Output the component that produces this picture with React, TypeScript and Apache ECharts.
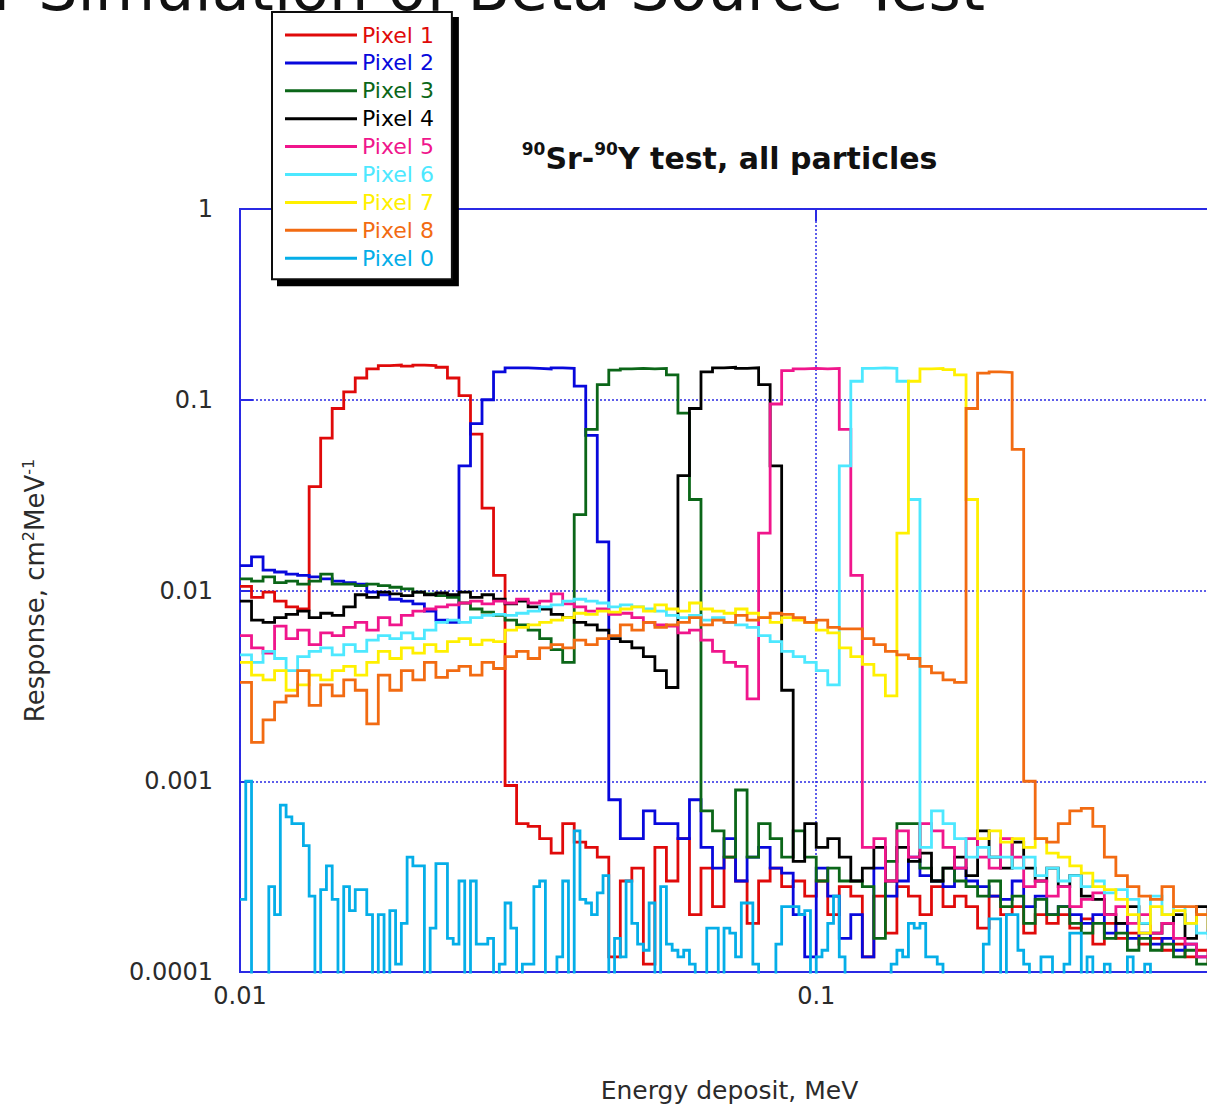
import React, { useEffect, useRef } from "react";
import * as echarts from "echarts";

// Histogram binning (log-uniform bins, width in decades) starting at X_MIN
const X_MIN = 0.01;
const X_MAX = 0.5;
const Y_MIN = 0.0001;
const Y_MAX = 1;
const BIN_DECADES = 0.02;
const FINE_BIN_DECADES = 0.01;
const BELOW_AXIS = 1e-6; // empty bins (0) drawn below the log axis floor

const SERIES_NAMES = ["Pixel 1", "Pixel 2", "Pixel 3", "Pixel 4", "Pixel 5", "Pixel 6", "Pixel 7", "Pixel 8", "Pixel 0"];
const SERIES_COLORS = ["#e00a0a", "#0808dc", "#0b6618", "#000000", "#f0168c", "#4de8ff", "#fff000", "#f26b12", "#05aee8"];

const PIXEL_1 = [
  0.0105, 0.0092, 0.0098, 0.0088, 0.0082, 0.008, 0.035, 0.063, 0.09, 0.11,
  0.13, 0.145, 0.151, 0.152, 0.15, 0.152, 0.151, 0.148, 0.13, 0.105,
  0.066, 0.027, 0.012, 0.00095, 0.0006, 0.00058, 0.0005, 0.00042, 0.0006, 0.00048,
  0.00045, 0.0004, 0.00012, 0.0003, 0.00035, 0.00011, 0.00045, 0.0003, 0.0005, 0.0002,
  0.00035, 0.00022, 0.0004, 0.0003, 0.00018, 0.0003, 0.00035, 0.00028, 0.0003, 0.00025,
  0.0003, 0.0002, 0.00028, 0.00025, 0.00012, 0.00025, 0.00016, 0.00028, 0.00025, 0.0002,
  0.00028, 0.00022, 0.00025, 0.00022, 0.00017, 0.00025, 0.0002, 0.00022, 0.00016, 0.0002,
  0.00018, 0.0002, 0.00017, 0.00019, 0.00014, 0.00018, 0.00015, 0.00016, 0.00014, 0.00015,
  0.00013, 0.00014, 0.00012, 0.00013, 0.00011,
];

const PIXEL_2 = [
  0.0135, 0.015, 0.0128, 0.0125, 0.0122, 0.012, 0.0118, 0.0115, 0.0112, 0.011,
  0.0108, 0.0098, 0.0095, 0.009, 0.0088, 0.0085, 0.0078, 0.007, 0.0068, 0.045,
  0.075, 0.1, 0.14, 0.147, 0.147, 0.146, 0.145, 0.147, 0.146, 0.118,
  0.065, 0.018, 0.0008, 0.0005, 0.0005, 0.0007, 0.0006, 0.0006, 0.0005, 0.0008,
  0.00045, 0.00035, 0.0005, 0.0003, 0.0004, 0.00045, 0.00035, 0.00033, 0.0002, 0.00012,
  0.00035, 0.00025, 0.00015, 0.0002, 0.00012, 0.00035, 0.00025, 0.0003, 0.0004, 0.00032,
  0.0003, 0.00028, 0.00035, 0.0003, 0.00028, 0.00025, 0.00024, 0.0003, 0.00022, 0.00025,
  0.0002, 0.00022, 0.0002, 0.00018, 0.0002, 0.00016, 0.00018, 0.00015, 0.00016, 0.00014,
  0.00015, 0.00013, 0.00014, 0.00012, 0.00012,
];

const PIXEL_3 = [
  0.0115, 0.0112, 0.0118, 0.011, 0.0112, 0.0108, 0.0112, 0.0122, 0.0108, 0.0108,
  0.0106, 0.0108, 0.0106, 0.0104, 0.0102, 0.0098, 0.0096, 0.0094, 0.0092, 0.0086,
  0.008, 0.0077, 0.0074, 0.007, 0.0066, 0.0062, 0.0056, 0.0049, 0.0042, 0.025,
  0.07, 0.12, 0.143, 0.145, 0.146, 0.145, 0.146, 0.135, 0.085, 0.03,
  0.0007, 0.00055, 0.0004, 0.0009, 0.0004, 0.0006, 0.0005, 0.0004, 0.00055, 0.0004,
  0.0003, 0.00035, 0.0003, 0.0003, 0.00028, 0.00015, 0.00038, 0.0006, 0.0006, 0.00035,
  0.0003, 0.00035, 0.0003, 0.00028, 0.00025, 0.0003, 0.00022, 0.00025, 0.00018, 0.00024,
  0.0002, 0.00022, 0.00018, 0.00016, 0.00018, 0.00015, 0.00016, 0.00013, 0.00015, 0.00013,
  0.00014, 0.00012, 0.00013, 0.00011, 0.00012,
];

const PIXEL_4 = [
  0.0088, 0.007, 0.0068, 0.0072, 0.0075, 0.0078, 0.0072, 0.0076, 0.0074, 0.0082,
  0.0095, 0.0092, 0.0098, 0.0096, 0.0094, 0.0098, 0.0095, 0.0097, 0.0095, 0.0098,
  0.0092, 0.0095, 0.009, 0.0085, 0.0088, 0.0082, 0.008, 0.0075, 0.0072, 0.0068,
  0.0066, 0.0062, 0.0056, 0.0054, 0.005, 0.0045, 0.0038, 0.0031, 0.04, 0.09,
  0.14, 0.147, 0.148, 0.146, 0.147, 0.12, 0.045, 0.003, 0.00038, 0.0006,
  0.00045, 0.0005, 0.0004, 0.0003, 0.00035, 0.00045, 0.0003, 0.00045, 0.00038, 0.00042,
  0.0003, 0.00035, 0.0004, 0.00032, 0.00055, 0.0004, 0.00035, 0.00048, 0.00035, 0.0003,
  0.00035, 0.00028, 0.00032, 0.00025, 0.00024, 0.0002, 0.00018, 0.00022, 0.00018, 0.00016,
  0.00018, 0.0002, 0.00015, 0.00022, 0.00016,
];

const PIXEL_5 = [
  0.0058, 0.005, 0.0047, 0.0065, 0.0056, 0.0062, 0.0052, 0.006, 0.0058, 0.0064,
  0.0068, 0.0062, 0.0072, 0.0066, 0.0074, 0.0078, 0.008, 0.0082, 0.0084, 0.0086,
  0.0088, 0.0085, 0.0088, 0.0086, 0.009, 0.0086, 0.0088, 0.0096, 0.0085, 0.0082,
  0.0078, 0.008, 0.0075, 0.0076, 0.0072, 0.0068, 0.0066, 0.0065, 0.006, 0.0062,
  0.0055, 0.0048, 0.0042, 0.004, 0.0027, 0.02, 0.095, 0.142, 0.145, 0.146,
  0.145, 0.146, 0.07, 0.012, 0.00045, 0.0005, 0.0003, 0.00055, 0.0004, 0.0006,
  0.00055, 0.00045, 0.00035, 0.0005, 0.0004, 0.00035, 0.0005, 0.0004, 0.00028, 0.0003,
  0.00025, 0.00028, 0.00022, 0.00024, 0.00026, 0.0002, 0.00022, 0.00018, 0.0002, 0.00016,
  0.00018, 0.00015, 0.00014, 0.00012, 0.00013,
];

const PIXEL_6 = [
  0.0046, 0.0042, 0.0048, 0.0044, 0.0038, 0.0045, 0.0048, 0.005, 0.0046, 0.0052,
  0.0048, 0.0055, 0.0058, 0.0056, 0.006, 0.0056, 0.0062, 0.0068, 0.007, 0.0068,
  0.0072, 0.0074, 0.0075, 0.0074, 0.0076, 0.0078, 0.0082, 0.0084, 0.0088, 0.009,
  0.0088, 0.0086, 0.0082, 0.0084, 0.0082, 0.008, 0.0078, 0.0074, 0.0072, 0.0074,
  0.007, 0.0072, 0.0068, 0.0066, 0.0064, 0.0058, 0.0054, 0.0048, 0.0045, 0.0042,
  0.0038, 0.0032, 0.045, 0.125, 0.146, 0.147, 0.146, 0.125, 0.03, 0.00045,
  0.0007, 0.0006, 0.0005, 0.0004, 0.00045, 0.0004, 0.0004, 0.00035, 0.0004, 0.00032,
  0.00035, 0.0003, 0.00032, 0.00028, 0.0003, 0.00026, 0.00027, 0.00024, 0.00018, 0.00025,
  0.0002, 0.00022, 0.00018, 0.00016, 0.00015,
];

const PIXEL_7 = [
  0.0042, 0.0036, 0.0034, 0.0038, 0.003, 0.0032, 0.0036, 0.0034, 0.0038, 0.004,
  0.0036, 0.0042, 0.0048, 0.0044, 0.005, 0.0047, 0.0052, 0.0048, 0.0054, 0.0056,
  0.0052, 0.0055, 0.0054, 0.0062, 0.0064, 0.0066, 0.0068, 0.007, 0.0072, 0.0076,
  0.0075, 0.0078, 0.0077, 0.008, 0.0082, 0.0078, 0.0084, 0.008, 0.0078, 0.0086,
  0.008, 0.0078, 0.0076, 0.008, 0.0076, 0.0072, 0.0068, 0.0072, 0.007, 0.0068,
  0.0062, 0.006, 0.005, 0.0045, 0.0041, 0.0036, 0.0028, 0.02, 0.125, 0.145,
  0.146, 0.144, 0.135, 0.03, 0.0005, 0.00055, 0.00048, 0.0005, 0.00045, 0.0005,
  0.00042, 0.0004, 0.00036, 0.00033, 0.00028, 0.00027, 0.00024, 0.0002, 0.00016, 0.00022,
  0.0002, 0.00021, 0.00018, 0.0002, 0.00017,
];

const PIXEL_8 = [
  0.0033, 0.0016, 0.0021, 0.0026, 0.0028, 0.0038, 0.0025, 0.0032, 0.0028, 0.0034,
  0.003, 0.002, 0.0036, 0.003, 0.0038, 0.0034, 0.0042, 0.0035, 0.0038, 0.004,
  0.0036, 0.0042, 0.0039, 0.0045, 0.0048, 0.0044, 0.005, 0.0052, 0.005, 0.0055,
  0.0052, 0.0056, 0.0058, 0.0066, 0.0062, 0.0068, 0.0064, 0.0066, 0.0068, 0.0072,
  0.0066, 0.007, 0.0068, 0.0074, 0.007, 0.0072, 0.0076, 0.0075, 0.0072, 0.0068,
  0.007, 0.0064, 0.0063, 0.0063, 0.0056, 0.0052, 0.0048, 0.0046, 0.0044, 0.004,
  0.0037, 0.0034, 0.0033, 0.09, 0.138, 0.14, 0.139, 0.055, 0.001, 0.0005,
  0.00048, 0.0006, 0.0007, 0.00072, 0.00058, 0.0004, 0.00032, 0.00028, 0.00025, 0.00024,
  0.00028, 0.00022, 0.00022, 0.0002, 0.00021,
];

// Pixel 0 read at the finer binning (0 = empty bin)
const PIXEL_0_FINE = [
  0.00024, 0.001, 0, 0, 0, 0.00028, 0.0002, 0.00075, 0.00065, 0.0006,
  0.0006, 0.00046, 0.00025, 0, 0.00027, 0.00036, 0.00024, 0, 0.00028, 0.00021,
  0.00027, 0.00027, 0.0002, 0, 0.0002, 0, 0.00021, 0.00011, 0.00018, 0.0004,
  0.00036, 0.00036, 0, 0.00017, 0.00037, 0.00037, 0.00015, 0.00014, 0.0003, 0,
  0.0003, 0.00014, 0.00014, 0.00015, 0, 0.00011, 0.00023, 0.00017, 0, 0.00011,
  0.00011, 0.00028, 0.0003, 0, 0, 0.00012, 0.0003, 0, 0.00055, 0.00024,
  0.00023, 0.0002, 0.00026, 0.00032, 0, 0.00015, 0.00012, 0.0003, 0.00018, 0.00014,
  0.00013, 0.00023, 0, 0.00028, 0.00014, 0.00013, 0.00012, 0.00013, 0.00011, 0,
  0, 0.00017, 0.00017, 0, 0.00017, 0.00016, 0.00012, 0.00023, 0.00023, 0.00011,
  0, 0, 0, 0.00014, 0.00022, 0.00022, 0.00022, 0.0002, 0.00021, 0,
  0.00012, 0.00013, 0.00018, 0.00025, 0.00012, 0, 0, 0, 0, 0,
  0, 0, 0, 0.00011, 0.00013, 0.00012, 0.00018, 0.00017, 0.00018, 0.00012,
  0.00012, 0.00011, 0, 0, 0, 0, 0, 0, 0, 0.00014,
  0.00019, 0.00019, 0, 0.0002, 0.0002, 0.00013, 0.00011, 0, 0, 0.00012,
  0.00012, 0, 0, 0.00011, 0.00016, 0.00016, 0, 0.00012, 0, 0,
  0.00011, 0, 0, 0, 0.00012, 0, 0, 0.00011, 0, 0,
  0, 0, 0, 0, 0, 0, 0, 0, 0, 0,
];

const SERIES_VALUES: [number[], number][] = [
  [PIXEL_1, BIN_DECADES],
  [PIXEL_2, BIN_DECADES],
  [PIXEL_3, BIN_DECADES],
  [PIXEL_4, BIN_DECADES],
  [PIXEL_5, BIN_DECADES],
  [PIXEL_6, BIN_DECADES],
  [PIXEL_7, BIN_DECADES],
  [PIXEL_8, BIN_DECADES],
  [PIXEL_0_FINE, FINE_BIN_DECADES],
];

const AXIS_BLUE = "#2a2ae4";
const FONT = "DejaVu Sans";
const TEXT_COLOR = "#2b2b2b";
const VIEW_W = 1207;
const VIEW_H = 1110;
const CHART_W = 1250; // the plot frame runs past the visible right edge, as in the reference

function binEdge(i: number, width: number): number {
  return Math.pow(10, Math.log10(X_MIN) + i * width);
}

function histogramSteps(values: number[], width: number): number[][] {
  const pts = values.map((v, i) => [binEdge(i, width), v > 0 ? v : BELOW_AXIS]);
  const last = values[values.length - 1];
  pts.push([binEdge(values.length, width), last > 0 ? last : BELOW_AXIS]);
  return pts;
}

function fmt(v: number): string {
  return String(+Number(v).toPrecision(6));
}

function buildOption(): any {
  const series = SERIES_NAMES.map((name, i) => ({
    name,
    type: "line",
    step: "end",
    showSymbol: false,
    symbol: "none",
    clip: true,
    silent: true,
    color: SERIES_COLORS[i],
    itemStyle: { color: SERIES_COLORS[i] },
    lineStyle: { color: SERIES_COLORS[i], width: 2.8, join: "miter" },
    data: histogramSteps(SERIES_VALUES[i][0], SERIES_VALUES[i][1]),
  }));

  return {
    animation: false,
    backgroundColor: "#ffffff",
    title: {
      text: "{sup|90}Sr-{sup|90}Y test, all particles",
      left: 729.6,
      top: 140,
      textAlign: "center",
      padding: 0,
      textStyle: {
        fontFamily: FONT,
        fontWeight: "bold",
        fontSize: 30,
        lineHeight: 36,
        color: "#111111",
        rich: {
          sup: { fontFamily: FONT, fontWeight: "bold", fontSize: 17, lineHeight: 10, verticalAlign: "top", color: "#111111" },
        },
      },
    },
    graphic: [
      {
        type: "text",
        x: 985,
        y: -12,
        silent: true,
        style: {
          text: "Detector Simulation of Beta Source Test",
          fontFamily: FONT,
          fontSize: 62,
          fill: "#111111",
          align: "right",
          verticalAlign: "middle",
        },
      },
    ],
    legend: {
      orient: "vertical",
      left: 272,
      top: 12,
      padding: [12, 18, 10, 13],
      itemWidth: 72,
      itemHeight: 3,
      itemGap: 5.9,
      icon: "rect",
      selectedMode: false,
      backgroundColor: "#ffffff",
      borderColor: "#111111",
      borderWidth: 2,
      borderRadius: 0,
      shadowColor: "#000000",
      shadowBlur: 0,
      shadowOffsetX: 6,
      shadowOffsetY: 6,
      itemStyle: { borderWidth: 0 },
      textStyle: { fontFamily: FONT, fontSize: 22, lineHeight: 22 },
      data: SERIES_NAMES.map((name, i) => ({ name, textStyle: { color: SERIES_COLORS[i] } })),
    },
    grid: {
      left: 240,
      top: 209,
      width: 979,
      height: 768,
      show: true,
      borderColor: AXIS_BLUE,
      borderWidth: 2,
      backgroundColor: "transparent",
      containLabel: false,
    },
    xAxis: [
      {
        type: "log",
        logBase: 10,
        min: X_MIN,
        max: X_MAX,
        position: "bottom",
        axisLine: { show: false },
        axisTick: { show: true, inside: true, length: 12, lineStyle: { color: AXIS_BLUE, width: 2 } },
        minorTick: { show: false },
        axisLabel: {
          margin: 12,
          fontFamily: FONT,
          fontSize: 24,
          color: TEXT_COLOR,
          showMaxLabel: false,
          formatter: (v: number) => fmt(v),
        },
        splitLine: { show: true, lineStyle: { color: AXIS_BLUE, width: 1.5, type: [2, 2] } },
        name: "Energy deposit, MeV",
        nameLocation: "middle",
        nameGap: 103,
        nameTextStyle: { fontFamily: FONT, fontSize: 25, lineHeight: 30, color: TEXT_COLOR },
      },
      {
        type: "log",
        logBase: 10,
        min: X_MIN,
        max: X_MAX,
        position: "top",
        axisLine: { show: false },
        axisTick: { show: true, inside: true, length: 12, lineStyle: { color: AXIS_BLUE, width: 2 } },
        axisLabel: { show: false },
        splitLine: { show: false },
      },
    ],
    yAxis: {
      type: "log",
      logBase: 10,
      min: Y_MIN,
      max: Y_MAX,
      axisLine: { show: false },
      axisTick: { show: true, inside: true, length: 13, lineStyle: { color: AXIS_BLUE, width: 2 } },
      minorTick: { show: false },
      axisLabel: {
        margin: 27,
        fontFamily: FONT,
        fontSize: 24,
        color: TEXT_COLOR,
        padding: [0, 0, 7, 0],
        formatter: (v: number) => fmt(v),
      },
      splitLine: { show: true, lineStyle: { color: AXIS_BLUE, width: 1.5, type: [2, 2] } },
      name: "Response, cm{sup|2}MeV{sup|-1}",
      nameLocation: "middle",
      nameGap: 190,
      nameTextStyle: {
        fontFamily: FONT,
        fontSize: 26,
        lineHeight: 30,
        color: TEXT_COLOR,
        rich: {
          sup: { fontFamily: FONT, fontSize: 16, lineHeight: 12, verticalAlign: "top", color: TEXT_COLOR },
        },
      },
    },
    series,
  };
}

export default function App() {
  const ref = useRef<HTMLDivElement>(null);
  useEffect(() => {
    if (!ref.current) return;
    const chart = echarts.init(ref.current, undefined, { renderer: "svg", width: CHART_W, height: VIEW_H });
    chart.setOption(buildOption());
    return () => {
      chart.dispose();
    };
  }, []);
  return (
    <div style={{ position: "absolute", left: 0, top: 0, width: VIEW_W, height: VIEW_H, overflow: "hidden", background: "#ffffff" }}>
      <div ref={ref} style={{ width: CHART_W, height: VIEW_H }} />
    </div>
  );
}
